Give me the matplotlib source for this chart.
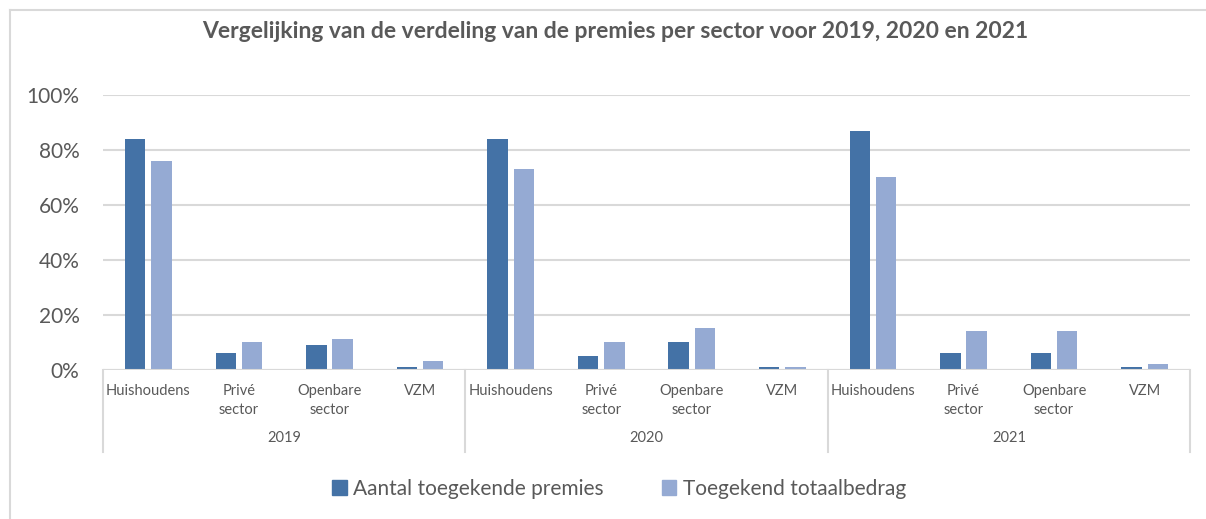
import matplotlib; matplotlib.use("Agg")
import matplotlib.pyplot as plt
import numpy as np
from matplotlib.patches import Patch
from matplotlib.lines import Line2D

years = ["2019", "2020", "2021"]
sectors = ["Huishoudens", "Privé\nsector", "Openbare\nsector", "VZM"]
aantal = [84, 6, 9, 1,   84, 5, 10, 1,   87, 6, 6, 1]
bedrag = [76, 10, 11, 3,  73, 10, 15, 1,  70, 14, 14, 2]
series = ["Aantal toegekende premies", "Toegekend totaalbedrag"]
DARK, LIGHT = "#4472A6", "#95AAD3"
GRID, TXT = "#D9D9D9", "#595959"

plt.rcParams["font.family"] = ["Lato", "DejaVu Sans"]
W, H = 1206, 519
fig = plt.figure(figsize=(W/100, H/100), dpi=100)
# plot area in pixels: x 103..1190, y 95..369
x0, x1, yt, yb = 103, 1190, 95, 369.5
ax = fig.add_axes([x0/W, 1-yb/H, (x1-x0)/W, (yb-yt)/H])

n = len(aantal)
x = np.arange(n)
bw, off = 0.225, 0.145
ax.bar(x-off, aantal, bw, color=DARK, zorder=3)
ax.bar(x+off, bedrag, bw, color=LIGHT, zorder=3)
ax.set_xlim(-0.5, n-0.5); ax.set_ylim(0, 100)
ax.set_yticks(range(0, 101, 20))
ax.set_yticklabels([f"{v}%" for v in range(0, 101, 20)], fontsize=15, color=TXT)
ax.tick_params(axis="y", length=0, pad=17)
ax.set_xticks([])
ax.yaxis.grid(True, color=GRID, linewidth=1.5, zorder=0)
for s in ax.spines.values(): s.set_visible(False)
ax.axhline(0, color=GRID, linewidth=1.5, zorder=4)

tr = ax.get_xaxis_transform()
h = yb-yt
for i in range(n):
    ax.text(i, -(384-yb)/h, sectors[i % 4], transform=tr, ha="center", va="top",
            fontsize=10.5, color=TXT, linespacing=1.45)
for g, yr in enumerate(years):
    ax.text(g*4+1.5, -(431-yb)/h, yr, transform=tr, ha="center", va="top", fontsize=10.5, color=TXT)
for b in [-0.5, 3.5, 7.5, 11.5]:
    ax.add_line(Line2D([b, b], [0, -(452-yb)/h], transform=tr, color=GRID, linewidth=1.5, clip_on=False))

fig.text(615/W, 1-31/H, "Vergelijking van de verdeling van de premies per sector voor 2019, 2020 en 2021",
         ha="center", va="center", fontsize=16.5, fontweight="bold", color=TXT)

handles = [Patch(color=DARK), Patch(color=LIGHT)]
fig.legend(handles, series, loc="center", bbox_to_anchor=(619/W, 1-489/H), ncol=2, frameon=False,
           fontsize=15, labelcolor=TXT, handlelength=0.7, handleheight=0.7, handletextpad=0.3, columnspacing=2.8)

# chart border (left and top visible)
fig.add_artist(Line2D([10/W, 10/W], [0, 1-10/H], transform=fig.transFigure, color=GRID, linewidth=1.5))
fig.add_artist(Line2D([10/W, 1], [1-10/H, 1-10/H], transform=fig.transFigure, color=GRID, linewidth=1.5))

fig.savefig("out.png", dpi=100)
